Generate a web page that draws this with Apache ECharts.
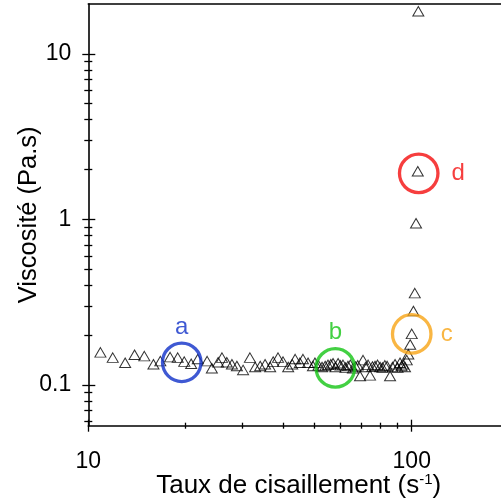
<!DOCTYPE html>
<html>
<head>
<meta charset="utf-8">
<script src="https://cdn.jsdelivr.net/npm/echarts@6/dist/echarts.min.js"></script>
<style>
html,body{margin:0;padding:0;background:#fff;}
#chart{width:501px;height:503px;}
</style>
</head>
<body>
<div id="chart"></div>
<script>
// Shear rate (s-1) and viscosity (Pa.s)
const shearRate = [10.9,11.9,13.0,13.9,14.9,15.9,16.7,17.9,18.9,19.8,20.8,21.8,23.3,24.1,25.2,25.9,26.8,27.8,28.8,30.1,31.6,32.8,34.0,35.2,36.5,37.3,38.6,40.0,41.5,42.7,43.6,45.1,46.1,47.8,49.5,50.2,51.5,52.8,54.0,55.1,56.2,57.1,58.1,59.2,60.2,61.3,62.4,63.5,64.6,65.8,67.0,68.1,69.2,70.7,72.0,73.3,74.3,75.6,77.0,78.4,79.8,81.2,82.6,83.9,85.7,87.2,88.8,90.4,92.0,93.0,94.0,95.3,96.5,97.6,98.9,100.0,101.2,102.2,103.1,104.4,104.8];
const viscosity = [0.157,0.146,0.136,0.152,0.149,0.133,0.139,0.147,0.146,0.138,0.134,0.143,0.139,0.126,0.137,0.146,0.137,0.133,0.130,0.123,0.146,0.128,0.130,0.133,0.128,0.138,0.146,0.138,0.128,0.133,0.143,0.136,0.143,0.136,0.130,0.136,0.131,0.128,0.130,0.132,0.133,0.135,0.128,0.135,0.131,0.132,0.127,0.130,0.132,0.126,0.129,0.131,0.113,0.141,0.128,0.132,0.114,0.129,0.130,0.132,0.128,0.127,0.131,0.130,0.113,0.128,0.133,0.127,0.136,0.130,0.133,0.128,0.141,0.153,0.175,0.203,0.279,0.358,0.946,1.95,18.1];

// Annotation circles
const annotX = [19.45, 58.05, 100.0, 105.1];
const annotY = [0.1367, 0.1265, 0.203, 1.895];
const annotLabels = ['a', 'b', 'c', 'd'];
const annotColors = ['#0f30c8', '#14c414', '#f8a414', '#f40e0e'];
const annotLabelPos = ['top', 'top', 'right', 'right'];
const annotLabelDist = [2, 3, 8, 12];

// Ticks
const xMajorTicks = [10, 100];
const xMinorTicks = [20, 30, 40, 50, 60, 70, 80, 90];
const yMajorTicks = [0.1, 1, 10];
const yMinorTicks = [0.06, 0.07, 0.08, 0.09, 0.2, 0.3, 0.4, 0.5, 0.6, 0.7, 0.8, 0.9, 2, 3, 4, 5, 6, 7, 8, 9];

const xMin = 10, xMax = 200, yMin = 0.0566, yMax = 20;
const FONT = 'Liberation Sans, Arial, sans-serif';

function tickAxis(type, pos, ticks, inside, len, extra) {
  const isX = type === 'x';
  return Object.assign({
    type: 'log', logBase: 10,
    min: isX ? xMin : yMin, max: isX ? xMax : yMax,
    position: pos,
    axisLine: {show: false},
    axisTick: {show: true, inside: inside, length: len, customValues: ticks,
               lineStyle: {color: '#000', width: 1.3}},
    axisLabel: {show: false},
    splitLine: {show: false},
    minorTick: {show: false},
    minorSplitLine: {show: false}
  }, extra || {});
}

const chart = echarts.init(document.getElementById('chart'), null, {renderer: 'canvas'});

const xAxes = [
  tickAxis('x', 'bottom', xMajorTicks, false, 6, {
    axisLine: {show: true, lineStyle: {color: '#000', width: 1.6}},
    axisLabel: {show: true, customValues: xMajorTicks, margin: 24, color: '#000',
                fontFamily: FONT, fontSize: 23},
    name: 'Taux de cisaillement (s{sup|-1})',
    nameLocation: 'middle', nameGap: 47, nameMoveOverlap: false,
    nameTextStyle: {color: '#000', fontFamily: FONT, fontSize: 26,
      rich: {sup: {fontSize: 15, fontFamily: FONT, color: '#000', verticalAlign: 'top'}}}
  }),
  tickAxis('x', 'bottom', xMajorTicks, true, 6),
  tickAxis('x', 'bottom', xMinorTicks, false, 3),
  tickAxis('x', 'bottom', xMinorTicks, true, 3),
  tickAxis('x', 'top', [], false, 0, {
    axisLine: {show: true, lineStyle: {color: '#000', width: 1.6}},
    axisTick: {show: false}
  })
];

const yAxes = [
  tickAxis('y', 'left', yMajorTicks, false, 6, {
    axisLine: {show: true, lineStyle: {color: '#000', width: 1.6}},
    axisLabel: {show: true, customValues: yMajorTicks, margin: 17, color: '#000',
                fontFamily: FONT, fontSize: 23,
                formatter: function (v) { return String(v); }},
    name: 'Viscosité (Pa.s)',
    nameLocation: 'middle', nameGap: 46, nameMoveOverlap: false,
    nameTextStyle: {color: '#000', fontFamily: FONT, fontSize: 25.5}
  }),
  tickAxis('y', 'left', yMajorTicks, true, 7),
  tickAxis('y', 'left', yMinorTicks, false, 4),
  tickAxis('y', 'left', yMinorTicks, true, 4)
];

const points = shearRate.map((x, i) => [x, viscosity[i]]);
const annots = annotX.map((x, i) => ({
  value: [x, annotY[i]],
  name: annotLabels[i],
  itemStyle: {borderColor: annotColors[i]},
  label: {position: annotLabelPos[i], color: annotColors[i], distance: annotLabelDist[i]}
}));

chart.setOption({
  animation: false,
  backgroundColor: '#fff',
  grid: {left: 88.3, top: 4, width: 420.8, height: 421.7, containLabel: false,
         outerBoundsMode: 'none', show: false},
  xAxis: xAxes,
  yAxis: yAxes,
  series: [
    {
      type: 'scatter', xAxisIndex: 0, yAxisIndex: 0,
      data: points,
      symbol: 'triangle', symbolSize: [11, 9.5],
      itemStyle: {color: 'rgba(0,0,0,0)', borderColor: '#000', borderWidth: 1},
      z: 2
    },
    {
      type: 'scatter', xAxisIndex: 0, yAxisIndex: 0,
      data: annots,
      symbol: 'circle', symbolSize: 38.5,
      itemStyle: {color: 'rgba(0,0,0,0)', borderWidth: 3.3},
      label: {show: true, formatter: '{b}', fontFamily: FONT, fontSize: 24},
      z: 3
    }
  ]
});
</script>
</body>
</html>
